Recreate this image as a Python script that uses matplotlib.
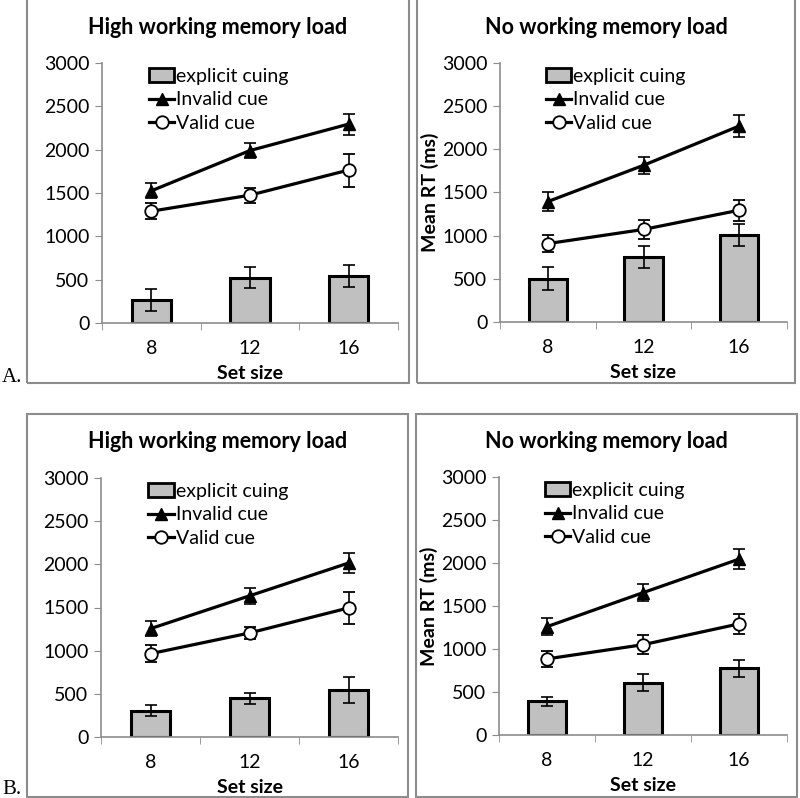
import numpy as np
import matplotlib
matplotlib.use("Agg")
import matplotlib.pyplot as plt
from matplotlib.patches import Rectangle, Patch
from matplotlib.lines import Line2D

set_sizes = ["8", "12", "16"]
titles = ["High working memory load", "No working memory load"]
panel_letters = ["A.", "B."]
legend_labels = ["explicit cuing", "Invalid cue", "Valid cue"]

# rows: A, B ; columns: high load, no load
bar_means = [[[265, 525, 545], [500, 750, 1005]],
             [[305, 450, 540], [390, 610, 775]]]
bar_err = [[[125, 125, 130], [135, 130, 125]],
           [[60, 65, 150], [55, 95, 95]]]
invalid_means = [[[1525, 1990, 2295], [1395, 1815, 2270]],
                 [[1255, 1635, 2015], [1260, 1655, 2045]]]
invalid_err = [[[85, 90, 120], [110, 100, 125]],
               [[85, 90, 120], [100, 100, 120]]]
valid_means = [[[1290, 1475, 1765], [908, 1072, 1295]],
               [[965, 1205, 1495], [885, 1050, 1292]]]
valid_err = [[[90, 85, 190], [95, 115, 120]],
             [[100, 65, 190], [95, 110, 115]]]

W, H = 800, 798
plt.rcParams["font.family"] = ["Lato", "DejaVu Sans"]

fig = plt.figure(figsize=(W / 100, H / 100), dpi=100)


def px_rect(x0, y0, x1, y1):
    return [x0 / W, 1 - y1 / H, (x1 - x0) / W, (y1 - y0) / H]


axes_px = [[(102, 63, 398, 323), (500, 63, 787, 322)],
           [(101, 478, 398, 737), (499, 477, 787, 735)]]
frames_px = [[(27, -5, 409, 383), (417, -5, 795, 383)],
             [(27, 414, 408, 797), (416, 414, 797, 797)]]
title_y = [27, 442]
letter_y = [378, 790]

gray = "#8c8c8c"
x = np.arange(len(set_sizes))

handles = [Patch(facecolor="#c0c0c0", edgecolor="black", linewidth=2.0),
           Line2D([], [], color="black", lw=2.3, marker="^", markersize=9),
           Line2D([], [], color="black", lw=2.3, marker="o", markersize=9,
                  markerfacecolor="white", markeredgewidth=1.3)]

for r in range(2):
    for c in range(2):
        fx0, fy0, fx1, fy1 = frames_px[r][c]
        fig.patches.append(Rectangle((fx0 / W, 1 - fy1 / H), (fx1 - fx0) / W, (fy1 - fy0) / H,
                                     transform=fig.transFigure, fill=False,
                                     edgecolor=gray, lw=1.5))
        ax = fig.add_axes(px_rect(*axes_px[r][c]))
        ax.bar(x, bar_means[r][c], width=0.4, color="#c0c0c0", edgecolor="black",
               linewidth=2.2, zorder=2)
        ax.errorbar(x, bar_means[r][c], yerr=bar_err[r][c], fmt="none", ecolor="black",
                    elinewidth=1.2, capsize=4, capthick=1.2, zorder=3)
        ax.errorbar(x, invalid_means[r][c], yerr=invalid_err[r][c], color="black",
                    lw=2.3, marker="^", markersize=9, markerfacecolor="black",
                    elinewidth=1.2, capsize=4, capthick=1.2, zorder=4)
        ax.errorbar(x, valid_means[r][c], yerr=valid_err[r][c], color="black",
                    lw=2.3, marker="o", markersize=9, markerfacecolor="white",
                    markeredgewidth=1.3, elinewidth=1.2, capsize=4, capthick=1.2,
                    zorder=4)
        ax.set_xlim(-0.5, 2.5)
        ax.set_ylim(0, 3000)
        ax.set_yticks(range(0, 3001, 500))
        ax.set_xticks(x)
        ax.set_xticklabels(set_sizes)
        ax.set_xticks([-0.5, 0.5, 1.5, 2.5], minor=True)
        ax.tick_params(axis="x", which="major", length=0, pad=12, labelsize=14)
        ax.tick_params(axis="x", which="minor", length=5, color=gray, direction="out")
        ax.tick_params(axis="y", length=5, color=gray, labelsize=14, pad=4)
        for s in ["top", "right"]:
            ax.spines[s].set_visible(False)
        for s in ["left", "bottom"]:
            ax.spines[s].set_color(gray)
            ax.spines[s].set_linewidth(1.2)
        ax.set_xlabel("Set size", fontweight="bold", fontsize=14, labelpad=6)
        if c == 1:
            ax.set_ylabel("Mean RT (ms)", fontweight="bold", fontsize=14, labelpad=2)
        fig.text((fx0 + fx1) / 2 / W, 1 - title_y[r] / H, titles[c],
                 ha="center", va="center", fontsize=15.5, fontweight="bold")
        ax.legend(handles, legend_labels,
                  loc="upper left", bbox_to_anchor=(0.133, 1.012), frameon=False,
                  fontsize=14, handlelength=1.3, handletextpad=0.1, labelspacing=0.35,
                  borderaxespad=0)
    fig.text(2 / W, 1 - letter_y[r] / H, panel_letters[r], ha="left", va="center",
             fontsize=15, family="Liberation Serif")

fig.savefig("out.png", dpi=100)
